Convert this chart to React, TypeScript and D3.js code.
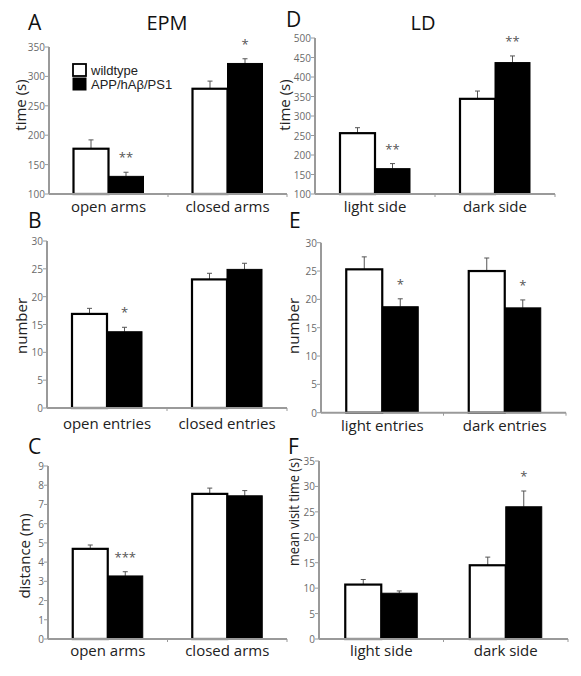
import React from "react";
import * as d3 from "d3";

// ---------- DATA ----------
const seriesNames = ["wildtype", "APP/hAβ/PS1"];

const aCategories = ["open arms", "closed arms"];
const aWildtype = [177, 279];
const aWildtypeErr = [15, 13];
const aTransgenic = [130, 322];
const aTransgenicErr = [7, 8];
const aStars = ["**", "*"];
const aTicks = [100, 150, 200, 250, 300, 350];

const bCategories = ["open entries", "closed entries"];
const bWildtype = [16.9, 23.1];
const bWildtypeErr = [1.0, 1.1];
const bTransgenic = [13.7, 24.9];
const bTransgenicErr = [0.8, 1.1];
const bStars = ["*", ""];
const bTicks = [0, 5, 10, 15, 20, 25, 30];

const cCategories = ["open arms", "closed arms"];
const cWildtype = [4.69, 7.55];
const cWildtypeErr = [0.2, 0.3];
const cTransgenic = [3.28, 7.45];
const cTransgenicErr = [0.22, 0.27];
const cStars = ["***", ""];
const cTicks = [0, 1, 2, 3, 4, 5, 6, 7, 8, 9];

const dCategories = ["light side", "dark side"];
const dWildtype = [256, 344];
const dWildtypeErr = [14, 20];
const dTransgenic = [165, 437];
const dTransgenicErr = [13, 17];
const dStars = ["**", "**"];
const dTicks = [100, 150, 200, 250, 300, 350, 400, 450, 500];

const eCategories = ["light entries", "dark entries"];
const eWildtype = [25.3, 25.0];
const eWildtypeErr = [2.2, 2.3];
const eTransgenic = [18.7, 18.5];
const eTransgenicErr = [1.4, 1.4];
const eStars = ["*", "*"];
const eTicks = [0, 5, 10, 15, 20, 25, 30];

const fCategories = ["light side", "dark side"];
const fWildtype = [10.7, 14.5];
const fWildtypeErr = [1.0, 1.6];
const fTransgenic = [9.0, 26.0];
const fTransgenicErr = [0.45, 3.1];
const fStars = ["", "*"];
const fTicks = [0, 5, 10, 15, 20, 25, 30, 35];

// ---------- STYLE ----------
const FONT = "'Open Sans', 'Noto Sans', sans-serif";
const AXIS = "#9a9a9a";
const TICKTXT = "#6a6a6a";

type PanelProps = {
  letter: string;
  letterX: number;
  letterY: number;
  categories: string[];
  wt: number[];
  wtErr: number[];
  tg: number[];
  tgErr: number[];
  stars: string[];
  ticks: number[];
  yLabel: string;
  yLabelX: number;
  yLabelY: number;
  yLabelLength?: number;
  x0: number;
  x1: number;
  yTop: number;
  yBottom: number;
  barW: number;
  catLabelY: number;
};

function Panel(p: PanelProps) {
  const domain = [p.ticks[0], p.ticks[p.ticks.length - 1]];
  const y = d3.scaleLinear().domain(domain).range([p.yBottom, p.yTop]);
  const x = d3.scaleBand().domain(p.categories).range([p.x0, p.x1]);
  const bw = x.bandwidth();
  const base = y(domain[0]);
  return (
    <g>
      <text x={p.letterX} y={p.letterY} fontFamily={FONT} fontSize={21} fill="#111">
        {p.letter}
      </text>
      <text
        transform={`translate(${p.yLabelX},${p.yLabelY}) rotate(-90)`}
        textAnchor="middle"
        dominantBaseline="central"
        fontFamily={FONT}
        fontSize={15}
        fill="#222"
        {...(p.yLabelLength ? { textLength: p.yLabelLength, lengthAdjust: "spacingAndGlyphs" } : {})}
      >
        {p.yLabel}
      </text>
      {/* bars */}
      {p.categories.map((c, i) => {
        const cx = (x(c) as number) + bw / 2;
        const wTop = y(p.wt[i]);
        const tTop = y(p.tg[i]);
        const wErrTop = y(p.wt[i] + p.wtErr[i]);
        const tErrTop = y(p.tg[i] + p.tgErr[i]);
        const wx = cx - p.barW / 2;
        const tx = cx + p.barW / 2;
        return (
          <g key={c}>
            <line x1={wx} x2={wx} y1={wTop} y2={wErrTop} stroke="#555" strokeWidth={1} />
            <line x1={wx - 2.5} x2={wx + 2.5} y1={wErrTop} y2={wErrTop} stroke="#555" strokeWidth={1} />
            <line x1={tx} x2={tx} y1={tTop} y2={tErrTop} stroke="#555" strokeWidth={1} />
            <line x1={tx - 2.5} x2={tx + 2.5} y1={tErrTop} y2={tErrTop} stroke="#555" strokeWidth={1} />
            <rect
              x={cx - p.barW}
              y={wTop}
              width={p.barW}
              height={base - wTop}
              fill="#fff"
              stroke="#000"
              strokeWidth={2.2}
            />
            <rect
              x={cx}
              y={tTop}
              width={p.barW}
              height={base - tTop}
              fill="#000"
              stroke="#000"
              strokeWidth={1}
            />
            {p.stars[i] ? (
              <text
                x={tx}
                y={tErrTop - 17 + 7}
                textAnchor="middle"
                fontFamily={FONT}
                fontSize={13}
                fill="#555"
              >
                {p.stars[i]}
              </text>
            ) : null}
            <text
              x={cx}
              y={p.catLabelY}
              textAnchor="middle"
              fontFamily={FONT}
              fontSize={15}
              fill="#222"
            >
              {c}
            </text>
          </g>
        );
      })}
      {/* y axis */}
      <line x1={p.x0} x2={p.x0} y1={p.yTop} y2={p.yBottom} stroke={AXIS} strokeWidth={2} />
      {p.ticks.map((t) => (
        <g key={t}>
          <line x1={p.x0 - 4} x2={p.x0} y1={y(t)} y2={y(t)} stroke={AXIS} strokeWidth={1} />
          <text
            x={p.x0 - 4}
            y={y(t)}
            textAnchor="end"
            dominantBaseline="central"
            fontFamily={FONT}
            fontSize={10}
            fill={TICKTXT}
          >
            {t}
          </text>
        </g>
      ))}
      {/* x axis */}
      <line x1={p.x0} x2={p.x1} y1={p.yBottom} y2={p.yBottom} stroke={AXIS} strokeWidth={2} />
      {p.categories.map((c) => {
        const xe = (x(c) as number) + bw;
        return <line key={c} x1={xe} x2={xe} y1={p.yBottom} y2={p.yBottom + 3} stroke={AXIS} strokeWidth={1} />;
      })}
    </g>
  );
}

export default function App() {
  return (
    <svg
      width={581}
      height={676}
      style={{ position: "absolute", left: 0, top: 0, background: "#fff" }}
    >
      <rect width={581} height={676} fill="#fff" />
      <text x={167} y={30} textAnchor="middle" fontFamily={FONT} fontSize={20} fill="#111">
        EPM
      </text>
      <text x={423} y={30} textAnchor="middle" fontFamily={FONT} fontSize={20} fill="#111">
        LD
      </text>

      <Panel
        letter="A" letterX={28} letterY={30}
        categories={aCategories} wt={aWildtype} wtErr={aWildtypeErr}
        tg={aTransgenic} tgErr={aTransgenicErr} stars={aStars} ticks={aTicks}
        yLabel="time (s)" yLabelX={20} yLabelY={105}
        x0={49} x1={287} yTop={47} yBottom={194} barW={35} catLabelY={212}
      />
      <Panel
        letter="B" letterX={28} letterY={228}
        categories={bCategories} wt={bWildtype} wtErr={bWildtypeErr}
        tg={bTransgenic} tgErr={bTransgenicErr} stars={bStars} ticks={bTicks}
        yLabel="number" yLabelX={21} yLabelY={326}
        x0={47} x1={287} yTop={241} yBottom={408} barW={35} catLabelY={429}
      />
      <Panel
        letter="C" letterX={28} letterY={454}
        categories={cCategories} wt={cWildtype} wtErr={cWildtypeErr}
        tg={cTransgenic} tgErr={cTransgenicErr} stars={cStars} ticks={cTicks}
        yLabel="distance (m)" yLabelX={24} yLabelY={556}
        x0={48} x1={287} yTop={466} yBottom={639} barW={35} catLabelY={656}
      />
      <Panel
        letter="D" letterX={286} letterY={27}
        categories={dCategories} wt={dWildtype} wtErr={dWildtypeErr}
        tg={dTransgenic} tgErr={dTransgenicErr} stars={dStars} ticks={dTicks}
        yLabel="time (s)" yLabelX={284} yLabelY={105}
        x0={315} x1={555} yTop={38} yBottom={194} barW={35} catLabelY={212}
      />
      <Panel
        letter="E" letterX={289} letterY={228}
        categories={eCategories} wt={eWildtype} wtErr={eWildtypeErr}
        tg={eTransgenic} tgErr={eTransgenicErr} stars={eStars} ticks={eTicks}
        yLabel="number" yLabelX={293} yLabelY={326}
        x0={321} x1={566} yTop={242.7} yBottom={412.7} barW={36} catLabelY={431}
      />
      <Panel
        letter="F" letterX={288} letterY={454}
        categories={fCategories} wt={fWildtype} wtErr={fWildtypeErr}
        tg={fTransgenic} tgErr={fTransgenicErr} stars={fStars} ticks={fTicks}
        yLabel="mean visit time (s)" yLabelX={293} yLabelY={512} yLabelLength={108}
        x0={319} x1={568} yTop={461} yBottom={639} barW={36} catLabelY={656}
      />

      {/* legend */}
      <rect x={73} y={64} width={13} height={12} fill="#fff" stroke="#000" strokeWidth={1.8} />
      <rect x={73} y={78} width={13} height={12} fill="#000" stroke="#000" strokeWidth={1} />
      <text x={91} y={74.5} fontFamily="'Liberation Sans', Arial, sans-serif" fontSize={13} fill="#222">
        {seriesNames[0]}
      </text>
      <text x={91} y={89} fontFamily="'Liberation Sans', Arial, sans-serif" fontSize={13} fill="#222">
        {seriesNames[1]}
      </text>
    </svg>
  );
}
